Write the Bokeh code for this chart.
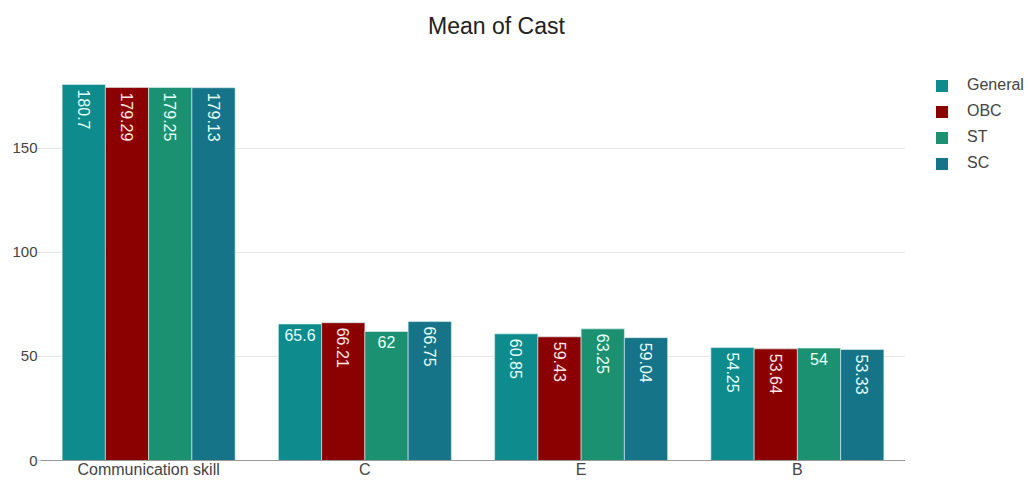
import math
from bokeh.plotting import figure
from bokeh.layouts import column, row
from bokeh.models import (ColumnDataSource, FactorRange, Legend, LegendItem,
                          FixedTicker, Range1d, Label, Spacer)
from bokeh.transform import dodge
from bokeh.core.properties import value
from bokeh.embed import file_html
from bokeh.resources import INLINE

# ---- data ----
categories = ["Communication skill", "C", "E", "B"]
series_names = ["General", "OBC", "ST", "SC"]
general = [180.7, 65.6, 60.85, 54.25]
obc = [179.29, 66.21, 59.43, 53.64]
st = [179.25, 62, 63.25, 54]
sc = [179.13, 66.75, 59.04, 53.33]
y_ticks = [0, 50, 100, 150]
title_text = "Mean of Cast"

series_values = [general, obc, st, sc]
colors = ["#0e8b8c", "#8b0000", "#1b9172", "#167488"]
label_colors = ["#e6fffb", "#ffe8e8", "#e6fffb", "#e6fffb"]
offsets = [-0.3, -0.1, 0.1, 0.3]
FONT = "Liberation Sans"


def bare(width, height):
    f = figure(width=width, height=height, output_backend="svg",
               toolbar_location=None, x_axis_location=None,
               y_axis_location=None, x_range=Range1d(0, width),
               y_range=Range1d(0, height), min_border=0)
    f.outline_line_color = None
    f.xgrid.grid_line_color = None
    f.ygrid.grid_line_color = None
    return f


# ---- title strip ----
tf = bare(1029, 38)
tf.add_layout(Label(x=496, y=13, text=title_text, text_align="center",
                    text_baseline="alphabetic", text_font=FONT,
                    text_font_size="23px", text_color="#222222"))

# ---- main chart ----
p = figure(x_range=FactorRange(*categories), y_range=Range1d(0, 185),
           width=905, height=442, output_backend="svg", toolbar_location=None,
           min_border_left=40, min_border_right=0, min_border_top=37,
           min_border_bottom=0)
p.outline_line_color = None
p.background_fill_color = "white"
p.border_fill_color = "white"

p.xaxis.axis_line_color = "#999999"
p.xaxis.major_tick_line_color = None
p.xaxis.minor_tick_line_color = None
p.xaxis.major_label_text_font = FONT
p.xaxis.major_label_text_font_size = "16px"
p.xaxis.major_label_text_color = "#444444"
p.xaxis.major_label_standoff = 0
p.xaxis.major_tick_out = 0

p.yaxis.ticker = FixedTicker(ticks=y_ticks)
p.yaxis.axis_line_color = None
p.yaxis.major_tick_line_color = "#d8d8d8"
p.yaxis.major_tick_out = 3
p.yaxis.major_tick_in = 0
p.yaxis.minor_tick_line_color = None
p.yaxis.major_label_text_font = FONT
p.yaxis.major_label_text_font_size = "15px"
p.yaxis.major_label_text_color = "#444444"
p.yaxis.major_label_standoff = 0

p.xgrid.grid_line_color = None
p.ygrid.grid_line_color = "#e6e6e6"
p.ygrid.ticker = FixedTicker(ticks=y_ticks)

# ---- legend strip ----
lf = bare(124, 434)
items = []
for name, vals, col, lcol, off in zip(series_names, series_values, colors,
                                      label_colors, offsets):
    labels = [str(v) for v in vals]
    src = ColumnDataSource(dict(x=categories, y=vals, label=labels))
    p.vbar(x=dodge("x", off, range=p.x_range), top="y", width=0.2,
           source=src, fill_color=col, line_color="#dff3f3", line_width=0.6)

    rot_idx = [i for i, s in enumerate(labels) if len(s) > 4]
    hor_idx = [i for i, s in enumerate(labels) if len(s) <= 4]
    rot = ColumnDataSource(dict(x=[categories[i] for i in rot_idx],
                                y=[vals[i] for i in rot_idx],
                                label=[labels[i] for i in rot_idx]))
    hor = ColumnDataSource(dict(x=[categories[i] for i in hor_idx],
                                y=[vals[i] for i in hor_idx],
                                label=[labels[i] for i in hor_idx]))
    p.text(x=dodge("x", off, range=p.x_range), y="y", text="label", source=rot,
           angle=-math.pi / 2, text_align="left", text_baseline="middle",
           y_offset=5, text_font=value(FONT), text_font_size="16px",
           text_color=lcol)
    p.text(x=dodge("x", off, range=p.x_range), y="y", text="label", source=hor,
           text_align="center", text_baseline="top", y_offset=5,
           text_font=value(FONT), text_font_size="16px", text_color=lcol)

    # zero-size proxy so that the legend strip can show the series swatch
    proxy = lf.vbar(x=[0], top=[0], bottom=[0], width=0, fill_color=col,
                    line_color=None)
    items.append(LegendItem(label=name, renderers=[proxy]))

legend = Legend(items=items, location="top_left", orientation="vertical",
                glyph_width=15, glyph_height=15, label_standoff=18,
                label_height=20, spacing=6, padding=0, margin=29,
                border_line_color=None, background_fill_alpha=0,
                label_text_font=FONT, label_text_font_size="16px",
                label_text_color="#444444")
lf.add_layout(legend, "center")

layout = column(tf, row(p, column(Spacer(width=124, height=8), lf,
                                  spacing=0), spacing=0), spacing=0)
open("out.html", "w").write(file_html(layout, INLINE))
